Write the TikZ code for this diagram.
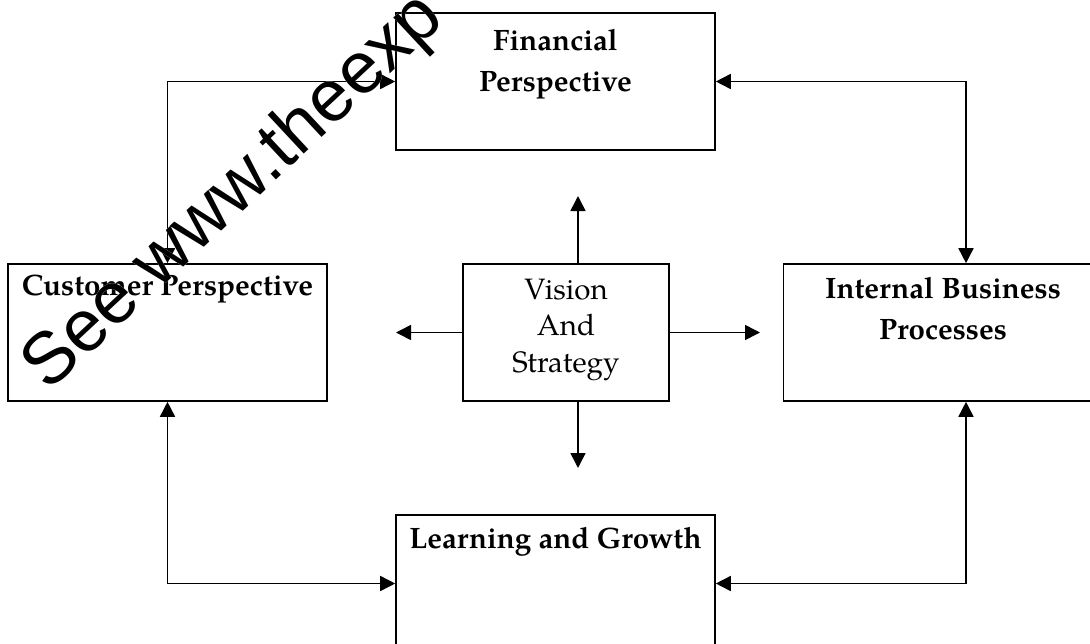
\documentclass[tikz,border=0pt]{standalone}
\usepackage{fontspec}
\usepackage[outline]{contour}
\setmainfont{TeX Gyre Pagella}
\newfontfamily\markfont{Liberation Sans}
\usetikzlibrary{arrows.meta,positioning}
\contourlength{2.5pt}

\tikzset{
  persp/.style={rectangle, draw, minimum width=319pt, minimum height=137pt, inner sep=0pt},
  title/.style={font=\fontsize{29.5}{41}\selectfont\bfseries, align=center, inner sep=0pt},
  plain/.style={font=\fontsize{29.5}{36.5}\selectfont, align=center, inner sep=0pt},
}

\begin{document}
\begin{tikzpicture}[x=1pt,y=-1pt,>={Triangle[length=15pt,width=15pt]},line width=1.6pt]
  \useasboundingbox (0,0) rectangle (1090,643);

  % the five boxes
  \node[persp] (fin) at (555.5,81.5) {};
  \node[persp] (cust) at (167.5,332.5) {};
  \node[persp, minimum width=206pt] (vis) at (566,332.5) {};
  \node[persp] (int) at (943,332.5) {};
  \node[persp] (learn) at (555.5,583.5) {};

  \node[title, below=16pt of fin.north] (fin-t) {Financial\\Perspective};
  \node[title, below=11pt of cust.north] (cust-t) {Customer Perspective};
  \node[plain, below=15pt of vis.north] (vis-t) {Vision\\And\\Strategy};
  \node[title, below=13pt of int.north] (int-t) {Internal Business\\Processes};
  \node[title, below=12pt of learn.north] (learn-t) {Learning and Growth};

  % arrows out of the centre box
  \coordinate (v-up) at (578,196);
  \coordinate (v-down) at (578,468);
  \coordinate (v-left) at (396,332.5);
  \coordinate (v-right) at (760,332.5);
  \draw[->] (vis.north -| v-up) -- (v-up);
  \draw[->] (vis.south -| v-down) -- (v-down);
  \draw[->] (vis.west) -- (v-left);
  \draw[->] (vis.east) -- (v-right);

  % links round the outside
  \draw[<->] (cust.north) |- (fin.west);
  \draw[<->] (fin.east) -| ([xshift=23pt]int.north);
  \draw[<->] (cust.south) |- (learn.west);
  \draw[<->] ([xshift=23pt]int.south) |- (learn.east);

  \node[font=\markfont\fontsize{73}{73}\selectfont, rotate=43, anchor=base west, inner sep=0pt] (mark) at (48,393) {\contour{white}{See www.theexp}};
\end{tikzpicture}
\end{document}
